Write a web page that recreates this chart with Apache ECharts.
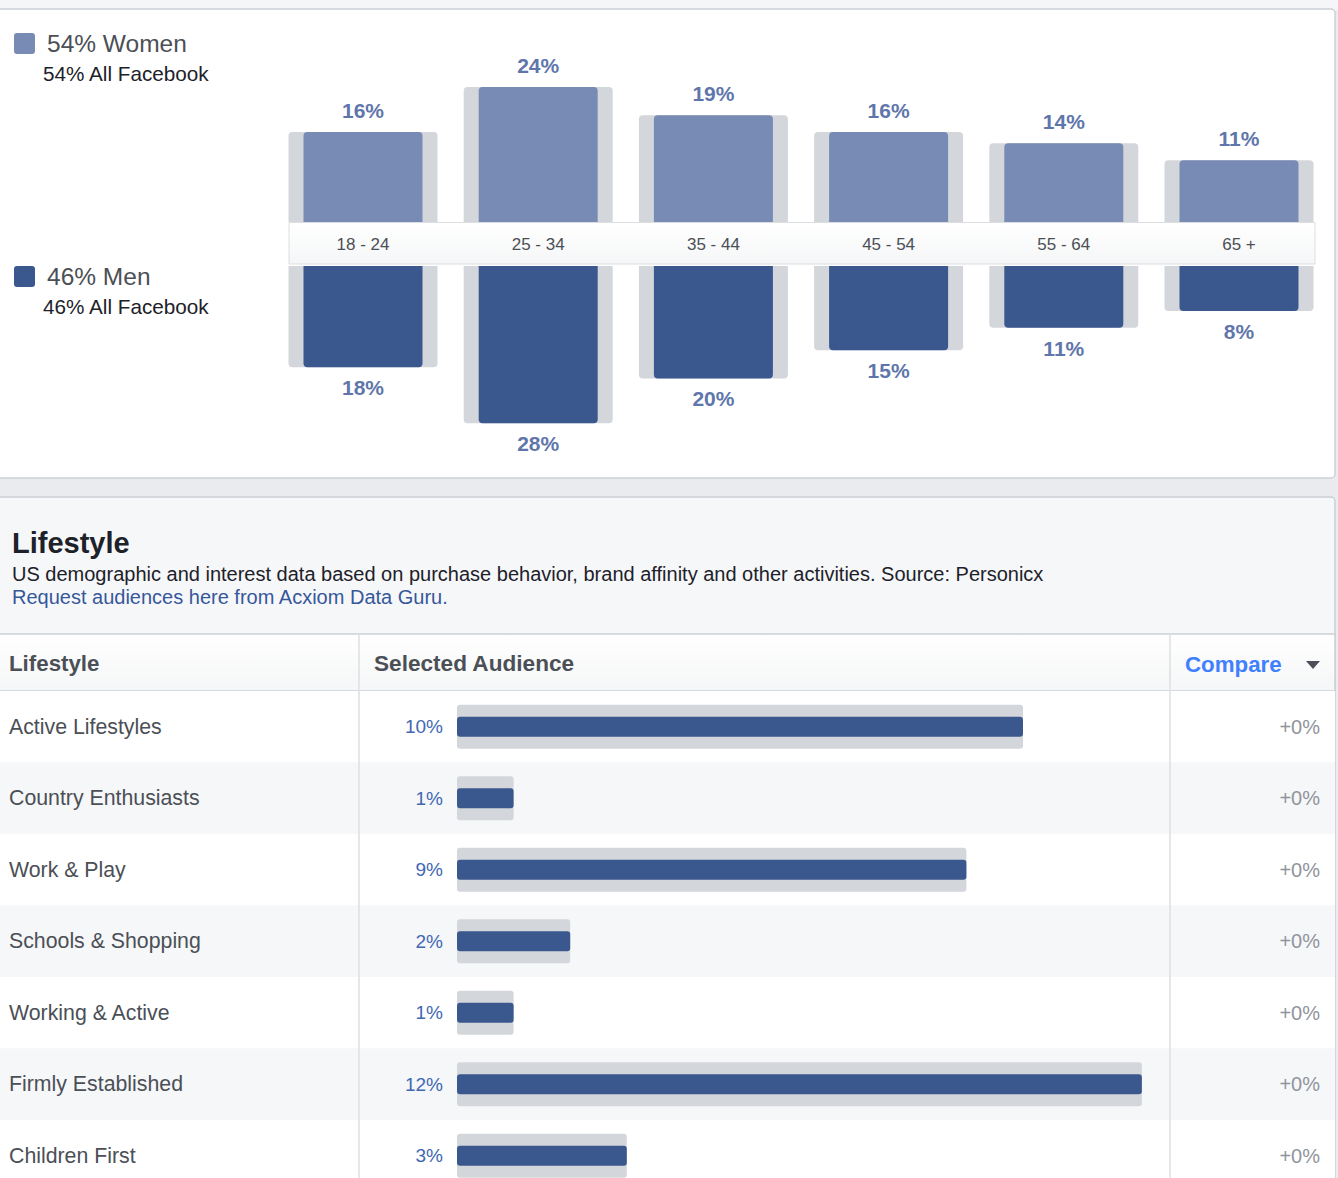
<!DOCTYPE html>
<html><head><meta charset="utf-8">
<script src="https://cdn.jsdelivr.net/npm/echarts@6/dist/echarts.min.js"></script>
<style>html,body{margin:0;padding:0;background:#e9ebee}#c{width:1338px;height:1178px}</style>
</head><body><div id="c"></div>
<script>
// ---- data ----
const ageGroups = ['18 - 24', '25 - 34', '35 - 44', '45 - 54', '55 - 64', '65 +'];
const womenPct = [16, 24, 19, 16, 14, 11];
const menPct = [18, 28, 20, 15, 11, 8];
const womenAllFacebook = [16, 24, 19, 16, 14, 11];
const menAllFacebook = [18, 28, 20, 15, 11, 8];
const genderNames = ['Women', 'Men'];
const genderShare = [54, 46];
const genderShareAllFacebook = [54, 46];
const lifestyles = ['Active Lifestyles', 'Country Enthusiasts', 'Work & Play', 'Schools & Shopping', 'Working & Active', 'Firmly Established', 'Children First'];
const lifestylePct = [10, 1, 9, 2, 1, 12.1, 3];
const lifestyleAllFacebook = [10, 1, 9, 2, 1, 12.1, 3];
const compareDelta = [0, 0, 0, 0, 0, 0, 0];

// ---- styles ----
const F = '"Liberation Sans", Arial, Helvetica, sans-serif';
const C_WOMEN = '#788bb5', C_MEN = '#3a578e', C_GRAY = '#d3d6db', C_PCT = '#5f76ab';
const pctFmt = p => Math.round(p.value) + '%';

const chart = echarts.init(document.getElementById('c'), null, {renderer: 'svg', width: 1338, height: 1178});

const g = [];
// panels
g.push({type: 'rect', z: -10, shape: {x: 0, y: 0, width: 1338, height: 10}, style: {fill: '#f5f6f7'}});
g.push({type: 'rect', z: -9, shape: {x: -3, y: 9, width: 1338, height: 469, r: 4}, style: {fill: '#ffffff', stroke: '#ccd0d5', lineWidth: 1.5}});
g.push({type: 'rect', z: -9, shape: {x: -3, y: 497, width: 1338, height: 700, r: 4}, style: {fill: '#f6f7f9', stroke: '#ccd0d5', lineWidth: 1.5}});
// table header row
g.push({type: 'rect', z: -8, shape: {x: -3, y: 634, width: 1338, height: 57}, style: {
  fill: new echarts.graphic.LinearGradient(0, 0, 0, 1, [{offset: 0, color: '#ffffff'}, {offset: 1, color: '#f5f6f7'}]),
  stroke: '#ccd0d5', lineWidth: 1.5}});
// age label band
g.push({type: 'rect', z: -1, shape: {x: 289, y: 222.5, width: 1026, height: 41.5}, style: {
  fill: new echarts.graphic.LinearGradient(0, 0, 0, 1, [{offset: 0, color: '#ffffff'}, {offset: 1, color: '#f5f6f7'}]),
  stroke: '#dcdee1', lineWidth: 1}});
// column dividers
[359, 1170].forEach(x => g.push({type: 'line', z: 5, shape: {x1: x, y1: 634, x2: x, y2: 1178}, style: {stroke: '#dddfe2', lineWidth: 1.5}}));
// legend
const legY = [[43, 73], [276, 306]];
genderNames.forEach((n, i) => {
  g.push({type: 'rect', z: 10, shape: {x: 14, y: legY[i][0] - 10, width: 21, height: 21, r: 3}, style: {fill: i === 0 ? C_WOMEN : C_MEN}});
  g.push({type: 'text', z: 10, x: 47, y: legY[i][0], style: {text: genderShare[i] + '% ' + n, font: '24.5px ' + F, fill: '#4b4f56', verticalAlign: 'middle'}});
  g.push({type: 'text', z: 10, x: 43, y: legY[i][1], style: {text: genderShareAllFacebook[i] + '% All Facebook', font: '20.7px ' + F, fill: '#1d2129', verticalAlign: 'middle'}});
});
// lifestyle header texts
g.push({type: 'text', z: 10, x: 12, y: 543, style: {text: 'Lifestyle', font: 'bold 29px ' + F, fill: '#1d2129', verticalAlign: 'middle'}});
g.push({type: 'text', z: 10, x: 12, y: 574, style: {text: 'US demographic and interest data based on purchase behavior, brand affinity and other activities. Source: Personicx', font: '20px ' + F, fill: '#1d2129', verticalAlign: 'middle'}});
g.push({type: 'text', z: 10, x: 12, y: 597, style: {text: 'Request audiences here from Acxiom Data Guru.', font: '20px ' + F, fill: '#365899', verticalAlign: 'middle'}});
g.push({type: 'text', z: 10, x: 9, y: 663, style: {text: 'Lifestyle', font: 'bold 22.3px ' + F, fill: '#4b4f56', verticalAlign: 'middle'}});
g.push({type: 'text', z: 10, x: 374, y: 663, style: {text: 'Selected Audience', font: 'bold 22.6px ' + F, fill: '#4b4f56', verticalAlign: 'middle'}});
g.push({type: 'text', z: 10, x: 1185, y: 664, style: {text: 'Compare', font: 'bold 22.3px ' + F, fill: '#4080ff', verticalAlign: 'middle'}});
g.push({type: 'polygon', z: 10, shape: {points: [[1306, 661], [1320, 661], [1313, 669]]}, style: {fill: '#4b4f56'}});

const hidden = {show: false};
const option = {
  animation: false,
  backgroundColor: '#e9ebee',
  textStyle: {fontFamily: F},
  graphic: {elements: g},
  grid: [
    {left: 275.4, top: 53.25, width: 1051.2, height: 168.75, outerBoundsMode: 'none'},
    {left: 275.4, top: 266, width: 1051.2, height: 168.6, outerBoundsMode: 'none'},
    {left: 0, top: 691, width: 1335, height: 500.5, outerBoundsMode: 'none'},
    {left: 457, top: 691, width: 792.4, height: 500.5, outerBoundsMode: 'none'}
  ],
  xAxis: [
    {type: 'category', gridIndex: 0, data: ageGroups, axisLine: hidden, axisTick: hidden,
      axisLabel: {fontSize: 17, color: '#4b4f56', margin: 14, fontFamily: F}},
    {type: 'category', gridIndex: 0, data: ageGroups, show: false},
    {type: 'category', gridIndex: 1, data: ageGroups, show: false},
    {type: 'category', gridIndex: 1, data: ageGroups, show: false},
    {type: 'value', gridIndex: 2, min: 0, max: 1, show: false},
    {type: 'value', gridIndex: 3, min: 0, max: 14, show: false}
  ],
  yAxis: [
    {type: 'value', gridIndex: 0, min: 0, max: 30, show: false},
    {type: 'value', gridIndex: 1, min: 0, max: 30, inverse: true, show: false},
    {type: 'category', gridIndex: 2, inverse: true, data: lifestyles, axisLine: hidden, axisTick: hidden,
      axisLabel: {inside: true, margin: 9, fontSize: 21.3, color: '#4b4f56', fontFamily: F},
      splitArea: {show: true, areaStyle: {color: ['#ffffff', '#f6f7f9']}}},
    {type: 'category', gridIndex: 2, inverse: true, position: 'right', data: compareDelta.map(v => '+' + v + '%'),
      axisLine: hidden, axisTick: hidden,
      axisLabel: {inside: true, margin: 15, fontSize: 20, color: '#90949c', fontFamily: F}},
    {type: 'category', gridIndex: 3, inverse: true, data: lifestyles, show: false},
    {type: 'category', gridIndex: 3, inverse: true, data: lifestyles, show: false}
  ],
  series: [
    {type: 'bar', name: 'Women All Facebook', xAxisIndex: 0, yAxisIndex: 0, data: womenAllFacebook, barWidth: 149,
      itemStyle: {color: C_GRAY, borderRadius: [4, 4, 0, 0]}, silent: true},
    {type: 'bar', name: 'Women', xAxisIndex: 1, yAxisIndex: 0, data: womenPct, barWidth: 119,
      itemStyle: {color: C_WOMEN, borderRadius: [4, 4, 0, 0]},
      label: {show: true, position: 'top', distance: 11, formatter: pctFmt, fontSize: 21, fontWeight: 'bold', color: C_PCT, fontFamily: F}},
    {type: 'bar', name: 'Men All Facebook', xAxisIndex: 2, yAxisIndex: 1, data: menAllFacebook, barWidth: 149,
      itemStyle: {color: C_GRAY, borderRadius: [0, 0, 4, 4]}, silent: true},
    {type: 'bar', name: 'Men', xAxisIndex: 3, yAxisIndex: 1, data: menPct, barWidth: 119,
      itemStyle: {color: C_MEN, borderRadius: [0, 0, 4, 4]},
      label: {show: true, position: 'bottom', distance: 10, formatter: pctFmt, fontSize: 21, fontWeight: 'bold', color: C_PCT, fontFamily: F}},
    {type: 'bar', name: 'Lifestyle All Facebook', xAxisIndex: 5, yAxisIndex: 4, data: lifestyleAllFacebook, barWidth: 44,
      itemStyle: {color: C_GRAY, borderRadius: 3},
      label: {show: true, position: 'left', distance: 14, formatter: pctFmt, fontSize: 19, color: '#4267b2', fontFamily: F}},
    {type: 'bar', name: 'Lifestyle Selected', xAxisIndex: 5, yAxisIndex: 5, data: lifestylePct, barWidth: 20,
      itemStyle: {color: C_MEN, borderRadius: 3}}
  ]
};
chart.setOption(option);
</script></body></html>
